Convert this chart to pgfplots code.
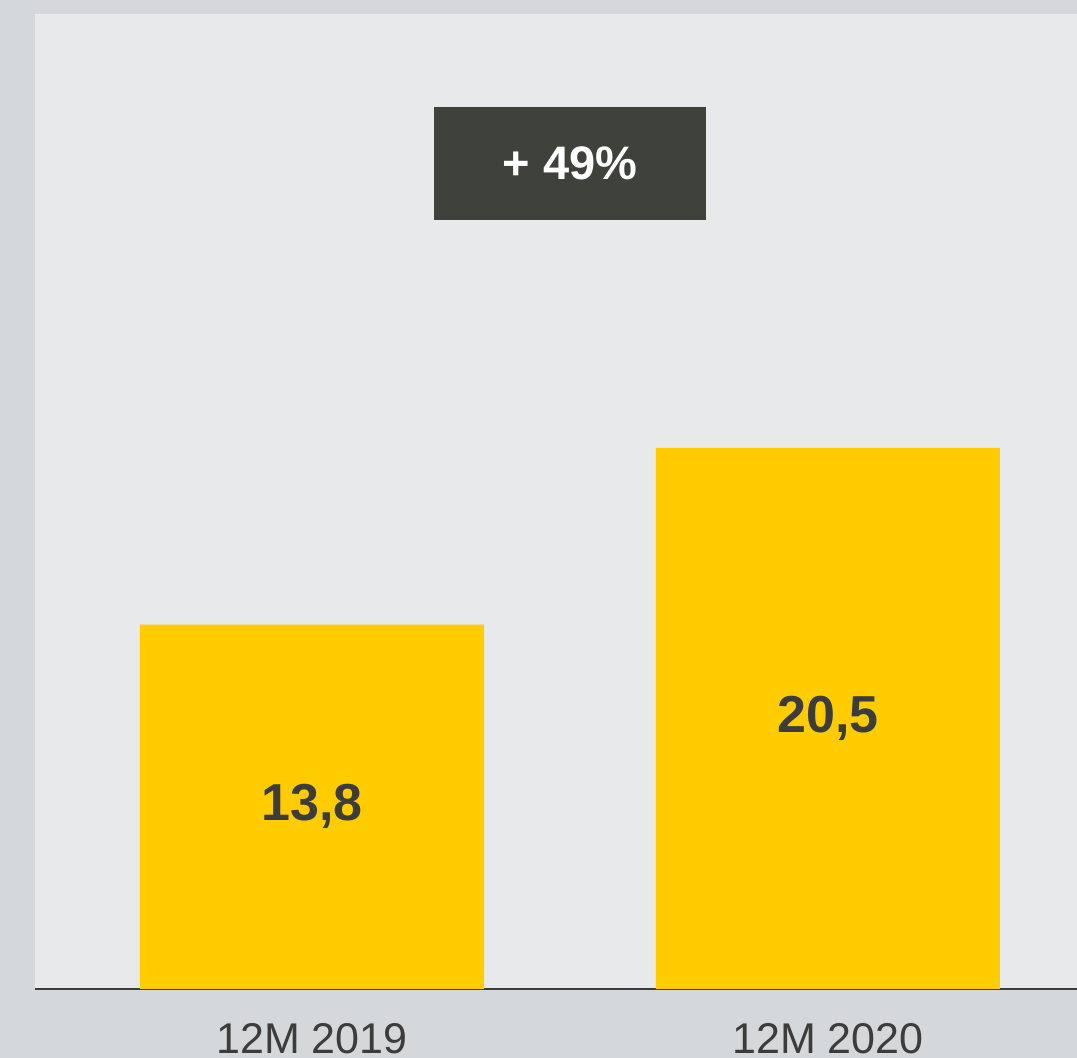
\documentclass[border=0pt]{standalone}
\usepackage{fontspec}
\setmainfont{Liberation Sans}
\usepackage{pgfplots}
\pgfplotsset{compat=1.18}
\definecolor{outerbg}{HTML}{D4D8DB}
\definecolor{panelbg}{HTML}{E8E9EB}
\definecolor{baryellow}{HTML}{FFCC00}
\definecolor{darktext}{HTML}{3C3C3A}
\definecolor{boxdark}{HTML}{3F413B}

\begin{document}
\begin{tikzpicture}
\useasboundingbox (0,0) rectangle (538.5pt,529pt);
\fill[outerbg] (0,0) rectangle (538.5pt,529pt);
\fill[panelbg] (17.5pt,34.5pt) rectangle (538.5pt,522pt);
\begin{axis}[
  at={(17.5pt,34.5pt)}, anchor=south west,
  scale only axis, width=521pt, height=487.5pt,
  ybar, bar width=0.667,
  xmin=-0.537, xmax=1.483, ymin=0, ymax=36.93,
  axis x line*=bottom, axis y line=none,
  axis line style={draw=darktext, line width=1pt, -},
  xtick={0,1}, xticklabels={12M 2019,12M 2020},
  major tick length=0pt,
  x tick label style={anchor=base, yshift=-32.5pt, inner sep=0pt,
    font=\fontsize{21.5pt}{24pt}\selectfont, text=darktext},
  /pgf/number format/.cd, use comma, fixed, fixed zerofill, precision=1,
    assume math mode=true,
]
\addplot[fill=baryellow, draw=none,
  nodes near coords, point meta=y,
  visualization depends on={y \as \rawy},
  every node near coord/.append style={anchor=center,
    shift={(axis direction cs:0,-\rawy/2)},
    font=\fontsize{26pt}{30pt}\selectfont\bfseries, text=darktext}]
  coordinates {(0,13.8) (1,20.5)};
\end{axis}
\node[fill=boxdark, minimum width=136pt, minimum height=56.5pt, inner sep=0pt,
  text=white, font=\fontsize{23.5pt}{26pt}\selectfont\bfseries]
  at (285pt,447.25pt) {+ 49\%};
\end{tikzpicture}
\end{document}
